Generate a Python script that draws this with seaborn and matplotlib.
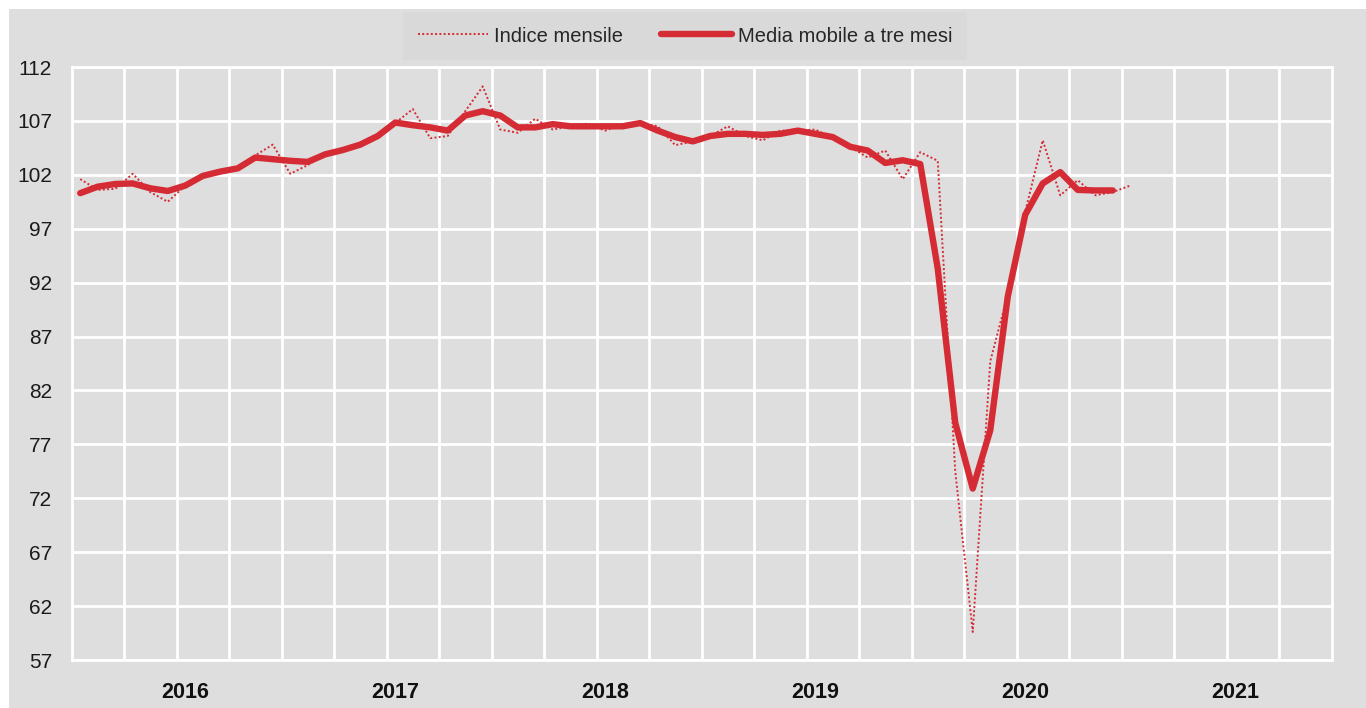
"""
Indice mensile e media mobile a tre mesi, gennaio 2016 - gennaio 2021.
"""

import numpy as np
import pandas as pd
import matplotlib
matplotlib.use('Agg')
import matplotlib.pyplot as plt
from matplotlib.patches import Rectangle
import seaborn as sns

# monthly index, Jan 2016 .. Jan 2021
indice_mensile = [
    101.6, 100.6, 100.7, 102.1, 100.4, 99.5, 101.0, 101.8, 102.3, 102.6, 103.8, 104.8,
    102.1, 102.9, 103.9, 104.3, 104.8, 105.6, 106.8, 108.1, 105.4, 105.6, 107.9, 110.2,
    106.2, 105.9, 107.2, 106.2, 106.5, 106.75, 106.1, 106.7, 106.8, 106.5, 104.75, 105.1,
    105.6, 106.5, 105.6, 105.2, 106.1, 106.1, 106.2, 105.4, 104.6, 103.6, 104.25, 101.6,
    104.1, 103.3, 74.5, 59.6, 84.7, 90.9, 98.6, 105.2, 100.1, 101.5, 100.1, 100.4,
    101.0,
]
# three-month moving average, Jan 2016 .. Dec 2020
media_mobile = [
    100.3, 100.9, 101.15, 101.2, 100.75, 100.5, 101.0, 101.9, 102.3, 102.6, 103.6, 103.45,
    103.3, 103.2, 103.9, 104.3, 104.8, 105.6, 106.85, 106.6, 106.4, 106.1, 107.5, 107.9,
    107.5, 106.4, 106.4, 106.7, 106.5, 106.5, 106.5, 106.5, 106.8, 106.1, 105.5, 105.1,
    105.6, 105.8, 105.8, 105.7, 105.8, 106.1, 105.8, 105.5, 104.6, 104.25, 103.1, 103.35,
    103.0, 93.3, 79.0, 72.9, 78.3, 90.7, 98.3, 101.2, 102.25, 100.6, 100.55, 100.55,
]
anni = ['2016', '2017', '2018', '2019', '2020', '2021']
y_ticks = [57, 62, 67, 72, 77, 82, 87, 92, 97, 102, 107, 112]

RED = '#d52b34'
GREY = '#dedede'

sns.set_theme(style='white')
plt.rcParams['font.family'] = ['Liberation Sans', 'DejaVu Sans']

df = pd.concat([
    pd.DataFrame({'mese': np.arange(len(indice_mensile)), 'valore': indice_mensile,
                  'serie': 'Indice mensile'}),
    pd.DataFrame({'mese': np.arange(len(media_mobile)), 'valore': media_mobile,
                  'serie': 'Media mobile a tre mesi'}),
], ignore_index=True)

fig = plt.figure(figsize=(13.66, 7.08), dpi=100, facecolor='white')
# grey chart area, with a thin white margin on the top and left
fig.patches.append(Rectangle((9 / 1366, 0), 1, 1 - 9 / 708, transform=fig.transFigure,
                             facecolor=GREY, edgecolor='none', zorder=-10))
ax = fig.add_axes([71.5 / 1366, 48 / 708, 1260 / 1366, 593 / 708])
ax.set_facecolor(GREY)

sns.lineplot(data=df, x='mese', y='valore', hue='serie', style='serie',
             palette={'Indice mensile': RED, 'Media mobile a tre mesi': RED},
             dashes={'Indice mensile': (1, 1.2), 'Media mobile a tre mesi': ''},
             size='serie', sizes={'Indice mensile': 1.4, 'Media mobile a tre mesi': 4.6},
             legend=False, ax=ax)
for ln in ax.lines:
    ln.set_solid_capstyle('round')
    ln.set_solid_joinstyle('round')

ax.set_xlim(-0.5, 71.5)
ax.set_ylim(57, 112)
ax.set_yticks(y_ticks)
ax.set_yticklabels([str(v) for v in y_ticks], fontsize=15, color='#1a1a1a')
ax.set_xticks([6 + 12 * k for k in range(len(anni))])
ax.set_xticklabels(anni, fontsize=15.5, fontweight='bold', color='#111111')
ax.set_xticks([-0.5 + 3 * k for k in range(1, 24)], minor=True)
ax.tick_params(axis='both', which='both', length=0)
ax.tick_params(axis='x', pad=16)
ax.tick_params(axis='y', pad=14)

ax.grid(False)
ax.grid(True, axis='y', which='major', color='white', linewidth=2)
ax.grid(True, axis='x', which='minor', color='white', linewidth=2)
ax.set_axisbelow(True)
for sp in ax.spines.values():
    sp.set_visible(True)
    sp.set_color('white')
    sp.set_linewidth(2)
ax.set_xlabel('')
ax.set_ylabel('')

handles = [
    plt.Line2D([], [], color=RED, linewidth=1.4, linestyle=(0, (1, 1.2))),
    plt.Line2D([], [], color=RED, linewidth=4.6, solid_capstyle='round'),
]
leg = fig.legend(handles, ['Indice mensile', 'Media mobile a tre mesi'], ncol=2,
                 loc='center', bbox_to_anchor=(685 / 1366, 1 - 36 / 708),
                 frameon=True, fancybox=False, fontsize=14.5, handlelength=3.5,
                 handletextpad=0.3, columnspacing=1.9, borderpad=0.7,
                 borderaxespad=0)
leg.get_frame().set_facecolor('#d9d9d9')
leg.get_frame().set_edgecolor('none')
leg.get_frame().set_alpha(1)

fig.savefig('out.png', dpi=100, facecolor=fig.get_facecolor())
